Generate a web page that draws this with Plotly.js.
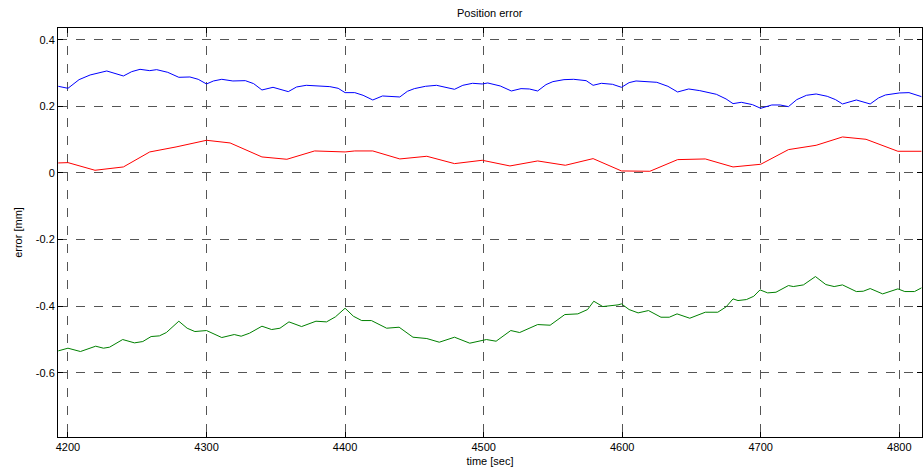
<!DOCTYPE html>
<html><head><meta charset="utf-8">
<script src="https://cdn.plot.ly/plotly-3.0.1.min.js"></script>
<style>html,body{margin:0;padding:0;background:#fff}#chart{width:924px;height:472px}</style>
</head><body><div id="chart"></div>
<script>
const blueT = [4193,4200,4208,4216,4228,4240,4246,4252,4259,4264,4272,4280,4288,4294,4300,4305,4311,4319,4328,4334,4340,4348,4359,4365,4372,4382,4389,4395,4400,4407,4413,4420,4427,4439.5,4445,4450,4458,4466,4479,4485,4492,4499,4503,4512,4520,4527,4533,4539,4545,4550,4558,4565,4574,4579,4585,4593,4599.5,4605,4610,4625,4633,4640,4648,4656,4668,4675,4680,4686,4694,4700,4708,4714,4720,4726,4733,4740,4748,4754,4759,4769,4779,4785,4790,4800,4807,4816];
const blueE = [0.260,0.254,0.280,0.294,0.306,0.291,0.304,0.311,0.307,0.310,0.302,0.287,0.288,0.281,0.267,0.276,0.281,0.276,0.277,0.268,0.249,0.257,0.244,0.258,0.263,0.260,0.259,0.254,0.241,0.241,0.233,0.219,0.231,0.228,0.245,0.253,0.260,0.263,0.251,0.263,0.269,0.267,0.270,0.261,0.246,0.253,0.252,0.246,0.265,0.274,0.280,0.281,0.277,0.263,0.269,0.266,0.257,0.271,0.276,0.272,0.260,0.243,0.252,0.247,0.236,0.222,0.208,0.212,0.205,0.194,0.204,0.204,0.199,0.220,0.233,0.237,0.230,0.220,0.207,0.219,0.207,0.225,0.234,0.240,0.241,0.229];

const redT = [4193,4200,4219.5,4240,4259,4278,4300,4317,4340,4358,4378,4400,4407,4420,4439.5,4459,4479,4499,4519,4539,4559,4579,4599.5,4620,4640,4660,4680,4700,4720,4740,4759,4776,4799,4816];
const redE = [0.030,0.031,0.008,0.018,0.063,0.078,0.098,0.090,0.048,0.041,0.066,0.063,0.066,0.066,0.042,0.050,0.028,0.038,0.021,0.036,0.023,0.043,0.006,0.005,0.040,0.042,0.018,0.026,0.070,0.083,0.108,0.101,0.065,0.065];

const greenT = [4193,4200,4209,4220,4225.6,4230,4239.5,4248,4254,4260,4266,4271,4280,4286,4291.6,4300,4311,4320,4325,4331,4340,4347,4353,4359.5,4368.6,4379,4386.6,4393,4400,4406,4412,4419,4430,4439,4449,4459,4468,4479,4490,4499,4502,4509,4519.6,4526,4539,4548,4558.6,4568,4575,4579.5,4586,4597,4599.5,4605,4611.5,4619,4628,4634,4639.6,4648.8,4660,4669,4675,4680,4683.6,4689.7,4695,4699.5,4705,4711,4720,4723.5,4730.8,4739.5,4747,4753,4759,4769,4774,4779,4788,4799,4804,4811,4816];
const greenE = [-0.534,-0.526,-0.536,-0.520,-0.526,-0.523,-0.500,-0.510,-0.506,-0.491,-0.489,-0.479,-0.445,-0.466,-0.476,-0.473,-0.494,-0.485,-0.490,-0.481,-0.460,-0.470,-0.466,-0.447,-0.461,-0.445,-0.447,-0.432,-0.406,-0.430,-0.443,-0.443,-0.466,-0.463,-0.493,-0.497,-0.508,-0.493,-0.511,-0.503,-0.500,-0.505,-0.473,-0.479,-0.455,-0.457,-0.425,-0.423,-0.410,-0.385,-0.401,-0.396,-0.393,-0.410,-0.420,-0.413,-0.433,-0.433,-0.423,-0.436,-0.418,-0.418,-0.402,-0.378,-0.383,-0.380,-0.370,-0.351,-0.360,-0.358,-0.338,-0.341,-0.336,-0.311,-0.335,-0.341,-0.336,-0.356,-0.355,-0.347,-0.363,-0.348,-0.356,-0.356,-0.345];

const xTicks = [4200,4300,4400,4500,4600,4700,4800];
const yTicks = [-0.6,-0.4,-0.2,0,0.2,0.4];
const yTickText = ['-0.6','-0.4','-0.2','0','0.2','0.4'];

const font = {family:'Liberation Sans, Arial, sans-serif', size:11, color:'#000'};
const traces = [
  {x:blueT, y:blueE, mode:'lines', line:{color:'#0000ff', width:1}},
  {x:redT, y:redE, mode:'lines', line:{color:'#ff0000', width:1}},
  {x:greenT, y:greenE, mode:'lines', line:{color:'#008000', width:1}}
];
const axisCommon = {
  showline:true, linecolor:'#000', linewidth:1, mirror:'ticks',
  ticks:'inside', ticklen:5, tickcolor:'#000', tickwidth:1,
  showgrid:true, gridcolor:'#555555', gridwidth:1, griddash:'dash',
  zeroline:false, tickfont:font
};
const layout = {
  width:924, height:472, margin:{l:58, r:2, t:28, b:35},
  paper_bgcolor:'#fff', plot_bgcolor:'#fff', showlegend:false,
  font:font,
  title:{text:'Position error', font:font, x:0.53, xanchor:'center', y:0.973, yanchor:'middle'},
  xaxis:Object.assign({}, axisCommon, {range:[4192.8,4816.4], tickvals:xTicks, ticktext:xTicks.map(String),
    title:{text:'time [sec]', font:font, standoff:5}}),
  yaxis:Object.assign({}, axisCommon, {range:[-0.7925,0.435], tickvals:yTicks, ticktext:yTickText,
    title:{text:'error [mm]', font:font, standoff:10}})
};
Plotly.newPlot('chart', traces, layout, {displayModeBar:false, staticPlot:true});
</script></body></html>
